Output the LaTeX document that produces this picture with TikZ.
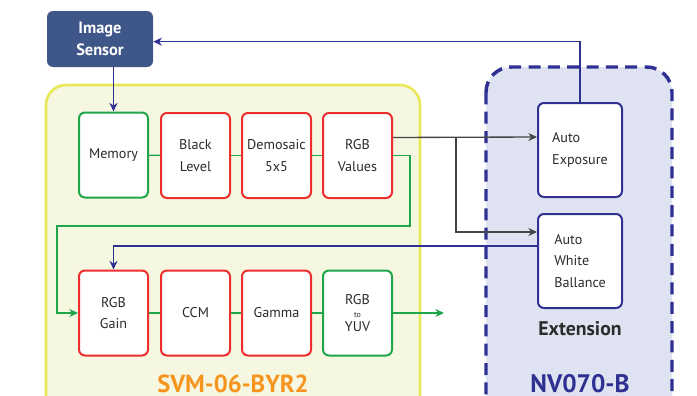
\documentclass[tikz,border=0pt]{standalone}
\usepackage{fontspec}
\setmainfont{PT Sans}
\usetikzlibrary{arrows.meta}
\definecolor{boxred}{HTML}{EE2E2E}
\definecolor{boxgreen}{HTML}{1FA64A}
\definecolor{navy}{HTML}{2E3192}
\definecolor{sensorfill}{HTML}{3F5689}
\definecolor{yelfill}{HTML}{F5F7E1}
\definecolor{yelborder}{HTML}{E8E85A}
\definecolor{bluefill}{HTML}{DFE3F1}
\definecolor{orangetxt}{HTML}{F7941D}
\definecolor{txt}{HTML}{2B2B2B}
\definecolor{arrgray}{HTML}{444444}
\begin{document}
\begin{tikzpicture}[x=0.75pt,y=-0.75pt,
  box/.style={draw, fill=white, rounded corners=4.5pt, line width=1.5pt,
    minimum width=51.75pt, minimum height=63.75pt, inner sep=0pt,
    align=center, text=txt, font=\fontsize{10.6}{16.3}\selectfont},
  redbox/.style={box, draw=boxred},
  grnbox/.style={box, draw=boxgreen},
  autobox/.style={box, draw=navy, minimum width=63pt, minimum height=70.5pt, align=left},
  gline/.style={draw=boxgreen, line width=1pt},
  bline/.style={draw=navy, line width=1pt},
  kline/.style={draw=arrgray, line width=1pt},
  tip/.style={-{Stealth[length=6.5pt,width=6pt]}}
]
\useasboundingbox (0,0) rectangle (697,396);
\clip (0,0) rectangle (697,396);

% regions
\draw[fill=yelfill, draw=yelborder, line width=2pt, rounded corners=15pt] (46,85) rectangle (420,440);
\draw[fill=bluefill, draw=navy, line width=2.6pt, dash pattern=on 9pt off 5.5pt, rounded corners=19pt] (486,67) rectangle (672,440);

% nodes
\node[fill=sensorfill, rounded corners=4.5pt, minimum width=79.5pt, minimum height=42pt, inner sep=0pt,
  align=center, text=white, font=\bfseries\fontsize{12.3}{16}\selectfont] (sensor) at (100,39) {Image\\Sensor};

\node[grnbox] (mem) at (113.5,155) {Memory};
\node[redbox] (black) at (195.5,155.5) {Black\\Level};
\node[redbox] (demo) at (276.5,155.5) {Demosaic\\5x5};
\node[redbox] (rgbv) at (357.5,155.5) {RGB\\Values};

\node[redbox] (gain) at (113.5,313) {RGB\\Gain};
\node[redbox] (ccm) at (195.5,313) {CCM};
\node[redbox] (gamma) at (276.5,313) {Gamma};
\node[grnbox] (yuv) at (357.5,313) {RGB\\[-6pt]{\fontsize{6}{7}\selectfont to}\\[-6pt]YUV};

\node[autobox] (ae) at (580,150) {Auto\\Exposure};
\node[autobox] (awb) at (580,261) {Auto\\White\\Ballance};

\node[text=txt, font=\bfseries\fontsize{14.8}{16}\selectfont] (ext) at (580,329) {Extension};
\node[text=navy, font=\bfseries\fontsize{19}{20}\selectfont] (nv) at (580,384) {NV070-B};
\node[text=orangetxt, font=\bfseries\fontsize{18.5}{20}\selectfont] (svm) at (233,384) {SVM-06-BYR2};

% coordinates
\coordinate (g1) at (410,226);
\coordinate (g2) at (57,313);
\coordinate (br) at (456,137);
\coordinate (out) at (444,313);

% green chain
\draw[gline] (mem) -- (black);
\draw[gline] (black) -- (demo);
\draw[gline] (demo) -- (rgbv);
\draw[gline] (gain) -- (ccm);
\draw[gline] (ccm) -- (gamma);
\draw[gline] (gamma) -- (yuv);
\draw[gline, tip, color=boxgreen] (rgbv.east) -| (g1) -| (g2) -- (gain.west);
\draw[gline, tip, color=boxgreen] (yuv.east) -- (out);

% blue
\draw[bline, tip, color=navy] (mem.north |- sensor.south) -- (mem.north);
\draw[bline, tip, color=navy] (ae.north) |- ([yshift=-2pt]sensor.east);
\draw[bline, tip, color=navy] ([yshift=11.25pt]awb.west) -| (gain.north);

% gray
\draw[kline, tip, color=arrgray] ([yshift=13.5pt]rgbv.east) -- ([yshift=9.75pt]ae.west);
\draw[kline, tip, color=arrgray] (br) |- ([yshift=21.75pt]awb.west);
\end{tikzpicture}
\end{document}
